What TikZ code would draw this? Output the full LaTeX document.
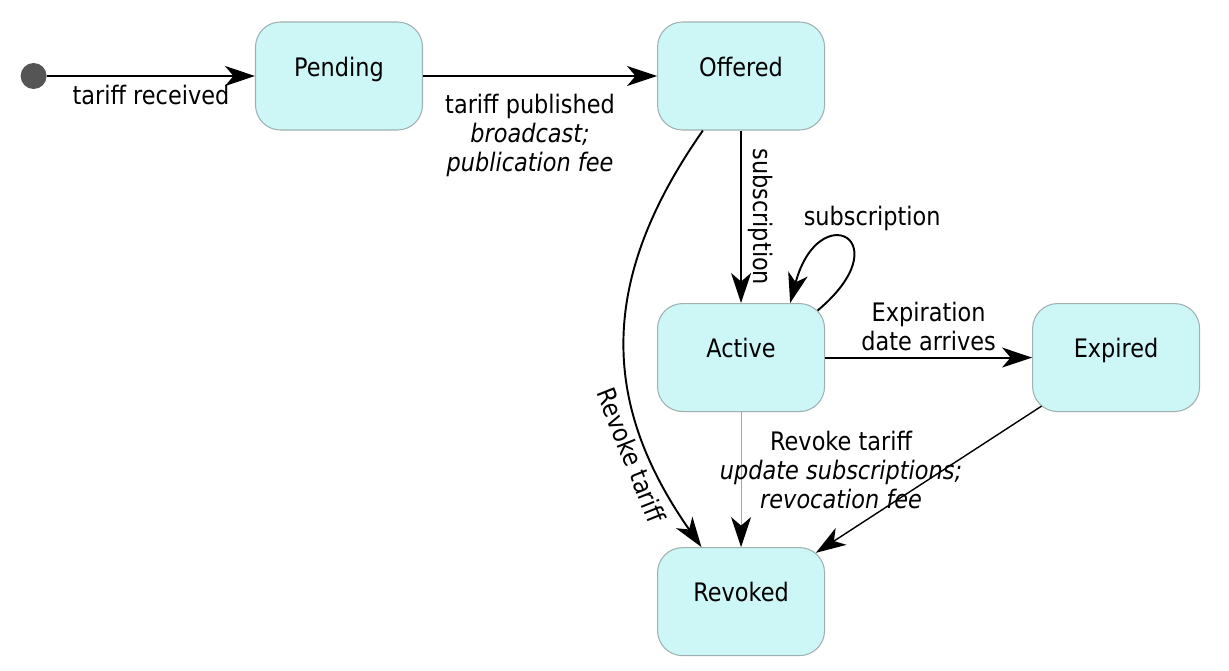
\documentclass[tikz,border=0pt]{standalone}
\usepackage{fontspec}
\setmainfont[FakeStretch=0.88]{DejaVu Sans}
\usetikzlibrary{positioning,arrows.meta}
\definecolor{colorstate} {RGB}{205,247,247}
\definecolor{colorborder}{RGB}{160,176,176}
\definecolor{colordot}   {RGB}{85,85,85}

\begin{document}
\begin{tikzpicture}[
    font={\fontsize{14.5}{16.5}\selectfont},
    state/.style={rectangle,rounded corners=0.5cm,fill=colorstate,draw=colorborder,line width=0.6pt,minimum width=3.34cm,minimum height=2.16cm,text height=0.4cm,text depth=0.4cm},
    start/.style={circle,fill=colordot,minimum size=0.52cm,inner sep=0pt},
    trans/.style={-{Stealth[length=0.6cm,width=0.4cm,inset=0.17cm]},line width=1.1pt},
    lighttrans/.style={trans,draw=black!35,line width=0.6pt,-{Stealth[length=0.6cm,width=0.4cm,inset=0.17cm,black]}},
]
    \useasboundingbox (0,0) rectangle (24.58,-13.42);

    % States
    \node[state] (pending) at (6.78,-1.52) {Pending};
    \node[start, left=4.16cm of pending] (init) {};
    \node[state, right=4.68cm of pending] (offered) {Offered};
    \node[state, below=3.45cm of offered] (active) {Active};
    \node[state, right=4.14cm of active] (expired) {Expired};
    \node[state, below=2.7cm of active] (revoked) {Revoked};

    % Transitions
    \draw[trans] (init) -- (pending) node[midway,below,yshift=-0.05cm] {tariff received};
    \draw[trans] (pending) -- (offered) node[midway,below=0.22cm,xshift=-0.2cm,align=center] {tariff published\\\textit{broadcast;}\\\textit{publication fee}};
    \draw[trans] (offered) -- (active) node[midway,sloped,above] {subscription};
    \draw[trans] ([shift={(-0.15cm,-0.15cm)}]active.north east) .. controls +(40:2.2cm) and +(75:2.2cm) .. (active.48) node[pos=0.5,above,xshift=0.52cm,yshift=0.05cm] {subscription};
    \draw[trans] (active) -- (expired) node[midway,above,align=center] {Expiration\\date arrives};
    \draw[trans] (offered.235) to[out=235,in=125,looseness=1.1] node[pos=0.77,sloped,below] {Revoke tariff} (revoked.126);
    \draw[lighttrans] (active) -- (revoked) node[midway,xshift=2cm,yshift=0.2cm,align=center] {Revoke tariff\\\textit{update subscriptions;}\\\textit{revocation fee}};
    \draw[trans,line width=0.8pt,shorten <=-0.22cm,shorten >=-0.21cm] (expired) -- (revoked);

\end{tikzpicture}
\end{document}
